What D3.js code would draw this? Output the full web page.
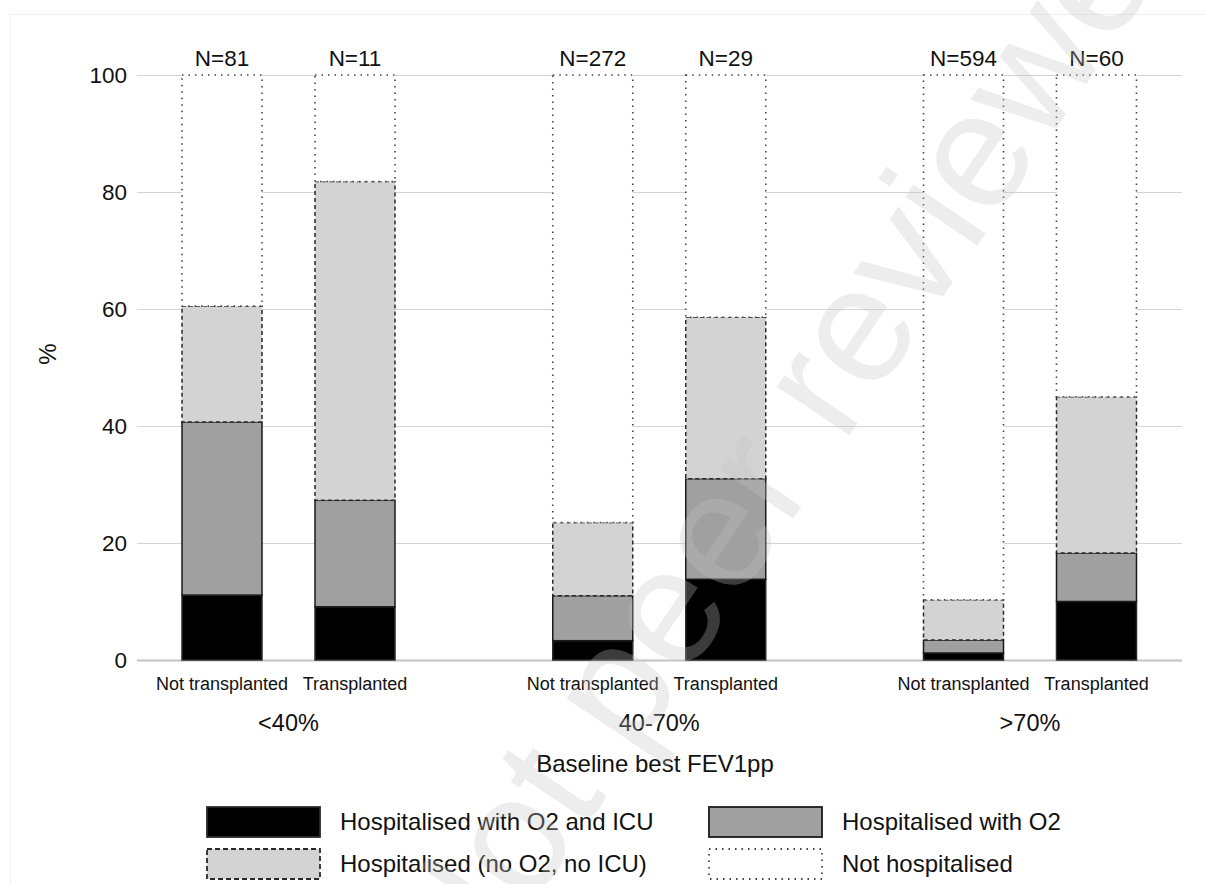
<!DOCTYPE html>
<html>
<head>
<meta charset="utf-8">
<script src="https://cdn.jsdelivr.net/npm/d3@7"></script>
<style>
  html, body { margin: 0; padding: 0; background: #fff; }
  svg { display: block; font-family: "Liberation Sans", Arial, sans-serif; }
</style>
</head>
<body>
<svg id="chart" width="1206" height="884"></svg>
<script>
// ---- data ----
const groups = ["<40%", "40-70%", ">70%"];
const transplantTypes = ["Not transplanted", "Transplanted"];
const nLabels = ["N=81", "N=11", "N=272", "N=29", "N=594", "N=60"];
const seriesNames = ["Hospitalised with O2 and ICU", "Hospitalised with O2", "Hospitalised (no O2, no ICU)", "Not hospitalised"];
// percentages, order: <40 NT, <40 T, 40-70 NT, 40-70 T, >70 NT, >70 T
const icuValues      = [11.1,  9.1,  3.3, 13.8,  1.2, 10.0];
const o2Values       = [29.6, 18.2,  7.7, 17.2,  2.2,  8.3];
const hospNoO2Values = [19.8, 54.5, 12.5, 27.6,  6.9, 26.7];
const notHospValues  = [39.5, 18.2, 76.5, 41.4, 89.7, 55.0];
const yTicks = [0, 20, 40, 60, 80, 100];

// ---- styles ----
const styles = [
  { fill: "#000000", stroke: "#2a2a2a", dash: null,   sw: 1.5 },
  { fill: "#a0a0a0", stroke: "#1a1a1a", dash: null,   sw: 1.5 },
  { fill: "#d3d3d3", stroke: "#2a2a2a", dash: "4,3",  sw: 1.5 },
  { fill: "#ffffff", stroke: "#444444", dash: "1.5,5", sw: 1.6 }
];

const svg = d3.select("#chart");

// faint outer frame
svg.append("rect").attr("x", 10.5).attr("y", 14.5).attr("width", 1300).attr("height", 1000)
  .attr("fill", "none").attr("stroke", "#efefef").attr("stroke-width", 1);

const y = d3.scaleLinear().domain([0, 100]).range([660, 75]);
const xGroup = d3.scalePoint().domain(groups).range([288.5, 1030]);
const xInner = d3.scalePoint().domain(transplantTypes).range([-66.5, 66.5]);
const barW = 80;
const gridX0 = 137, gridX1 = 1182;

// rows
const rows = [];
groups.forEach((g, gi) => transplantTypes.forEach((t, ti) => {
  const i = gi * 2 + ti;
  rows.push({ group: g, type: t, n: nLabels[i],
    s0: icuValues[i], s1: o2Values[i], s2: hospNoO2Values[i], s3: notHospValues[i] });
}));
const stack = d3.stack().keys(["s0", "s1", "s2", "s3"]);
const stacked = stack(rows);

// gridlines
svg.append("g").selectAll("line").data(yTicks.filter(d => d > 0)).join("line")
  .attr("x1", gridX0).attr("x2", gridX1)
  .attr("y1", d => y(d) + 0.5).attr("y2", d => y(d) + 0.5)
  .attr("stroke", "#d4d4d4").attr("stroke-width", 1);
// baseline
svg.append("line").attr("x1", gridX0).attr("x2", gridX1)
  .attr("y1", y(0) + 0.5).attr("y2", y(0) + 0.5)
  .attr("stroke", "#c4c4c4").attr("stroke-width", 2);

// y tick labels
svg.append("g").selectAll("text").data(yTicks).join("text")
  .attr("x", 127).attr("y", d => y(d)).attr("dy", "0.35em")
  .attr("text-anchor", "end").attr("font-size", 22.5).attr("fill", "#111")
  .text(d => d);

// y label
svg.append("text").attr("transform", "translate(56,354) rotate(-90)")
  .attr("text-anchor", "middle").attr("font-size", 24).attr("fill", "#111").text("%");

// bars
const cx = d => xGroup(d.group) + xInner(d.type);
stacked.forEach((layer, li) => {
  const st = styles[li];
  svg.append("g").selectAll("rect").data(layer).join("rect")
    .attr("x", d => cx(d.data) - barW / 2)
    .attr("y", d => y(d[1]))
    .attr("width", barW)
    .attr("height", d => y(d[0]) - y(d[1]))
    .attr("fill", st.fill)
    .attr("stroke", st.stroke)
    .attr("stroke-width", st.sw)
    .attr("stroke-dasharray", st.dash);
});

// N labels
svg.append("g").selectAll("text").data(rows).join("text")
  .attr("x", d => cx(d)).attr("y", 66)
  .attr("text-anchor", "middle").attr("font-size", 22.5).attr("fill", "#111")
  .text(d => d.n);

// category labels
svg.append("g").selectAll("text").data(rows).join("text")
  .attr("x", d => cx(d)).attr("y", 690)
  .attr("text-anchor", "middle").attr("font-size", 18).attr("fill", "#111")
  .text(d => d.type);

// group labels
svg.append("g").selectAll("text").data(groups).join("text")
  .attr("x", d => xGroup(d)).attr("y", 731)
  .attr("text-anchor", "middle").attr("font-size", 23.5).attr("fill", "#111")
  .text(d => d);

// x title
svg.append("text").attr("x", 655).attr("y", 772)
  .attr("text-anchor", "middle").attr("font-size", 24).attr("fill", "#111")
  .text("Baseline best FEV1pp");

// legend
const legendPos = [
  { x: 207, y: 807 }, { x: 709, y: 807 },
  { x: 207, y: 849 }, { x: 709, y: 849 }
];
const lg = svg.append("g");
seriesNames.forEach((name, i) => {
  const st = styles[i], p = legendPos[i];
  lg.append("rect").attr("x", p.x).attr("y", p.y).attr("width", 113).attr("height", 30)
    .attr("fill", st.fill).attr("stroke", st.stroke).attr("stroke-width", 1.8)
    .attr("stroke-dasharray", i === 2 ? "5,3" : (i === 3 ? "1.5,5" : null));
  lg.append("text").attr("x", p.x + 133).attr("y", p.y + 15).attr("dy", "0.35em")
    .attr("font-size", 24).attr("fill", "#111").text(name);
});

// watermark
svg.append("text")
  .attr("transform", "translate(790,420) rotate(-56)")
  .attr("text-anchor", "middle").attr("dy", "0.35em")
  .attr("font-size", 165).attr("fill", "#c2c2c2").attr("fill-opacity", 0.3)
  .text("Not peer reviewed");
</script>
</body>
</html>
